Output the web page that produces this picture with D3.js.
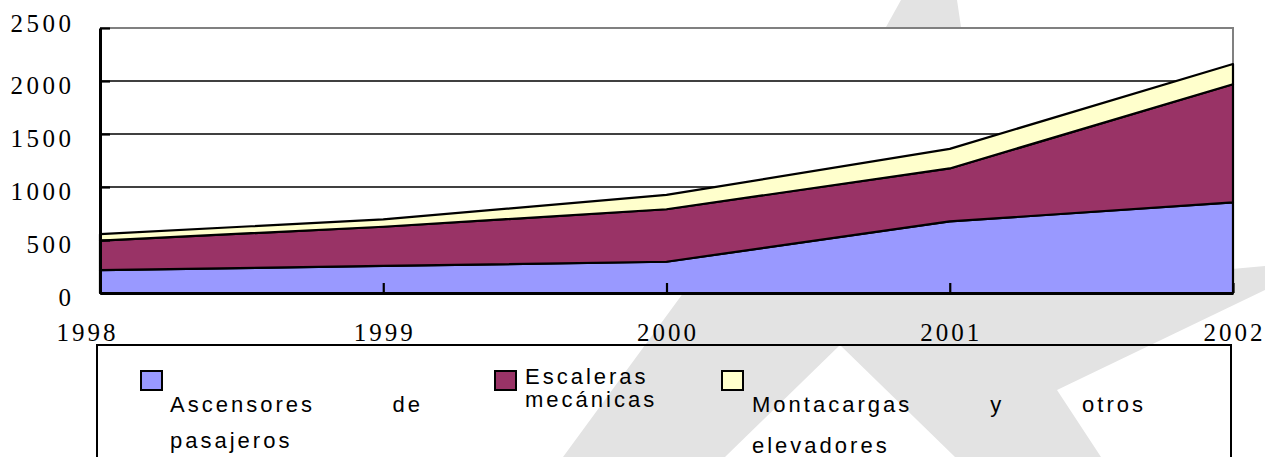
<!DOCTYPE html>
<html>
<head>
<meta charset="utf-8">
<script src="https://cdn.jsdelivr.net/npm/d3@7"></script>
<style>
  body { margin: 0; background: #fff; }
  svg { display: block; }
</style>
</head>
<body>
<div class="canvas"></div>
<script>
// data
const years = [1998, 1999, 2000, 2001, 2002];
const ascensores = [215, 255, 295, 675, 855];
const escaleras = [280, 370, 495, 500, 1115];
const montacargas = [60, 70, 135, 185, 190];
const yTicks = [0, 500, 1000, 1500, 2000, 2500];
const seriesKeys = ["asc", "esc", "mon"];
const colors = ["#9999ff", "#993366", "#ffffcc"];
const legendLines = [
  [["Ascensores", "de"], ["pasajeros"]],
  [["Escaleras"], ["mecánicas"]],
  [["Montacargas", "y", "otros"], ["elevadores"]]
];

const W = 1265, H = 457;
const margin = { top: 28, right: 32, bottom: 164, left: 100 };
const width = W - margin.left - margin.right;
const height = H - margin.top - margin.bottom;

const root = d3
  .select(".canvas")
  .append("svg")
  .attr("width", W)
  .attr("height", H);

root.append("rect").attr("width", W).attr("height", H).attr("fill", "#fff");

// watermark logo behind everything
root
  .append("polygon")
  .attr("fill", "#e3e3e3")
  .attr("points", [
    [901, 0], [957, 0], [1000, 290], [1265, 266], [1265, 290], [1057, 390],
    [1101, 457], [955, 457], [840, 345], [725, 457], [563, 457], [681, 296], [886, 27]
  ].join(" "));

const svg = root
  .append("g")
  .attr("transform", `translate(${margin.left},${margin.top})`);

const x = d3.scalePoint().domain(years).range([0, width]);
const y = d3.scaleLinear().domain([0, 2500]).range([height, 0]);

const table = years.map((yr, i) => ({
  year: yr,
  asc: ascensores[i],
  esc: escaleras[i],
  mon: montacargas[i]
}));
const stacked = d3.stack().keys(seriesKeys)(table);

// plot area
svg.append("rect").attr("width", width).attr("height", height).attr("fill", "#fff");

// gridlines
svg
  .selectAll(".grid")
  .data(yTicks.filter((d) => d > 0 && d < 2500))
  .join("line")
  .attr("x1", 0)
  .attr("x2", width)
  .attr("y1", (d) => y(d))
  .attr("y2", (d) => y(d))
  .attr("stroke", "#000")
  .attr("stroke-width", 1.6);

// top and right border
svg
  .append("path")
  .attr("d", `M0,${y(2500)}H${width}V${height}`)
  .attr("fill", "none")
  .attr("stroke", "#808080")
  .attr("stroke-width", 2);

const area = d3
  .area()
  .x((d) => x(d.data.year))
  .y0((d) => y(d[0]))
  .y1((d) => y(d[1]));

svg
  .selectAll(".layer")
  .data(stacked)
  .join("path")
  .attr("d", area)
  .attr("fill", (d, i) => colors[i])
  .attr("stroke", "#000")
  .attr("stroke-width", 2.2)
  .attr("stroke-linejoin", "round");

// axes
const yAxis = svg
  .append("g")
  .call(d3.axisLeft(y).tickValues(yTicks).tickSize(-10).tickSizeOuter(0).tickFormat(""));
const xAxis = svg
  .append("g")
  .attr("transform", `translate(0,${height})`)
  .call(d3.axisBottom(x).tickSize(-10).tickSizeOuter(0).tickFormat(""));
[yAxis, xAxis].forEach((a) => {
  a.select(".domain").attr("stroke", "#000").attr("stroke-width", 3);
  a.selectAll(".tick line").attr("stroke", "#000").attr("stroke-width", 2.2);
});

// y labels
svg
  .selectAll(".ylab")
  .data(yTicks)
  .join("text")
  .attr("x", -29 + 3.5)
  .attr("y", (d) => y(d) + (d === 2500 ? 4 : 13))
  .attr("text-anchor", "end")
  .attr("font-family", "Liberation Serif, Times New Roman, serif")
  .attr("font-size", 25)
  .attr("letter-spacing", 3.5)
  .attr("fill", "#000")
  .text((d) => d);

// x labels
svg
  .selectAll(".xlab")
  .data(years)
  .join("text")
  .attr("x", (d, i) => x(d) + (i === 0 ? -14 : 0) + 1.5)
  .attr("y", height + 48)
  .attr("text-anchor", "middle")
  .attr("font-family", "Liberation Serif, Times New Roman, serif")
  .attr("font-size", 25)
  .attr("letter-spacing", 3)
  .attr("fill", "#000")
  .text((d) => d);

// legend
const legend = root.append("g");
legend
  .append("rect")
  .attr("x", 97)
  .attr("y", 345)
  .attr("width", 1134)
  .attr("height", 140)
  .attr("fill", "none")
  .attr("stroke", "#000")
  .attr("stroke-width", 2);

const legendItems = [
  { box: 141, text: 170, right: 420, line0: 411.5, line1: 448 },
  { box: 495, text: 525, right: null, line0: 383.5, line1: 406.5 },
  { box: 722, text: 752, right: 1143, line0: 411.5, line1: 453 }
];
const ls = 3;

legendItems.forEach((it, i) => {
  legend
    .append("rect")
    .attr("x", it.box)
    .attr("y", 371)
    .attr("width", 21)
    .attr("height", 19)
    .attr("fill", colors[i])
    .attr("stroke", "#000")
    .attr("stroke-width", 2);

  legendLines[i].forEach((words, li) => {
    const yy = li === 0 ? it.line0 : it.line1;
    const t = legend
      .append("g")
      .attr("font-family", "Liberation Sans, Arial, sans-serif")
      .attr("font-size", 22)
      .attr("letter-spacing", ls)
      .attr("fill", "#000");
    if (words.length > 1 && it.right) {
      // justified line: equal gaps between words
      const nodes = words.map((w) => t.append("text").attr("y", yy).text(w));
      const widths = nodes.map((n) => n.node().getComputedTextLength() - ls);
      const gap = (it.right - it.text - d3.sum(widths)) / (words.length - 1);
      let cx = it.text;
      nodes.forEach((n, k) => {
        n.attr("x", cx);
        cx += widths[k] + gap;
      });
    } else {
      t.append("text").attr("x", it.text).attr("y", yy).text(words.join(" "));
    }
  });
});
</script>
</body>
</html>
